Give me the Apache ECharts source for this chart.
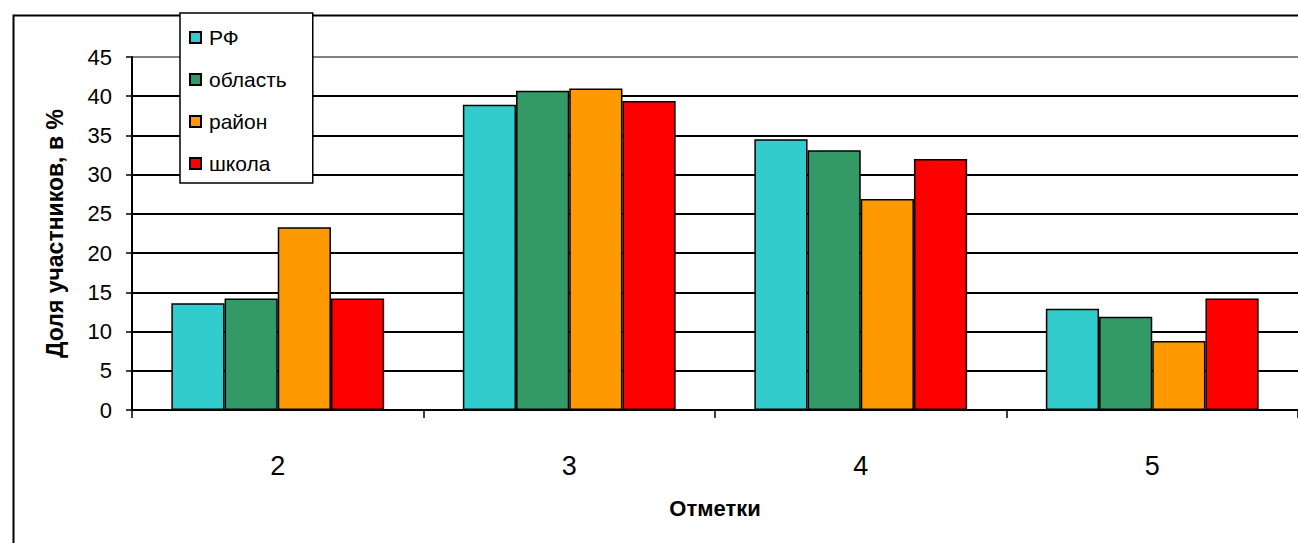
<!DOCTYPE html>
<html>
<head>
<meta charset="utf-8">
<script src="https://cdn.jsdelivr.net/npm/echarts@6/dist/echarts.min.js"></script>
<style>
html,body{margin:0;padding:0;background:#fff;}
#chart{width:1298px;height:543px;}
</style>
</head>
<body>
<div id="chart"></div>
<script>
const categories = ['2', '3', '4', '5'];
const seriesNames = ['РФ', 'область', 'район', 'школа'];
const rfValues = [13.6, 38.9, 34.5, 12.9];
const oblastValues = [14.2, 40.7, 33.1, 11.9];
const raionValues = [23.3, 41.0, 26.9, 8.8];
const schoolValues = [14.2, 39.4, 32.0, 14.2];
const yTicks = [0, 5, 10, 15, 20, 25, 30, 35, 40, 45];
const colors = ['#33CCCC', '#339966', '#FF9900', '#FF0000'];

const allValues = [rfValues, oblastValues, raionValues, schoolValues];
const font = 'Arial, "Liberation Sans", sans-serif';

const chart = echarts.init(document.getElementById('chart'), null, {renderer: 'svg'});
chart.setOption({
  animation: false,
  backgroundColor: '#fff',
  textStyle: {fontFamily: font, color: '#000'},
  graphic: [{
    type: 'rect', left: 11, top: 13, z: -1,
    shape: {width: 1400, height: 600},
    style: {fill: 'none', stroke: '#000', lineWidth: 2}
  }],
  grid: {left: 132, top: 57, width: 1176, height: 353, containLabel: false},
  legend: {
    orient: 'vertical', left: 180, top: 13,
    data: seriesNames,
    backgroundColor: '#fff',
    borderColor: '#000', borderWidth: 1.5,
    padding: [14, 26, 9, 9],
    itemWidth: 11, itemHeight: 11, itemGap: 21,
    icon: 'rect',
    textStyle: {fontSize: 21, fontFamily: font, color: '#000', padding: [0, 0, 0, 3]},
    z: 10
  },
  xAxis: {
    type: 'category', data: categories,
    name: 'Отметки', nameLocation: 'middle', nameGap: 87,
    nameTextStyle: {fontSize: 22, fontWeight: 'bold', fontFamily: font, color: '#000'},
    axisLine: {lineStyle: {color: '#000', width: 2}},
    axisTick: {show: true, length: 8, lineStyle: {color: '#000', width: 1.5}},
    axisLabel: {fontSize: 27, color: '#000', margin: 42, fontFamily: font}
  },
  yAxis: {
    type: 'value', min: 0, max: 45, interval: 5,
    name: 'Доля участников, в %', nameLocation: 'middle', nameRotate: 90, nameGap: 66,
    nameTextStyle: {fontSize: 23, fontWeight: 'bold', fontFamily: font, color: '#000'},
    axisLine: {show: true, lineStyle: {color: '#000', width: 2}},
    axisTick: {show: true, length: 6, lineStyle: {color: '#000', width: 1.5}},
    axisLabel: {fontSize: 22, color: '#000', margin: 20, fontFamily: font,
      formatter: v => yTicks.includes(v) ? String(v) : ''},
    splitLine: {show: true, lineStyle: {color: ['#000','#000','#000','#000','#000','#000','#000','#000','#000','#808080'], width: 2}}
  },
  series: allValues.map((vals, i) => ({
    name: seriesNames[i], type: 'bar', data: vals,
    barGap: '0%', barCategoryGap: '27%',
    itemStyle: {color: colors[i], borderColor: '#000', borderWidth: 1.5}
  }))
});
</script>
</body>
</html>
